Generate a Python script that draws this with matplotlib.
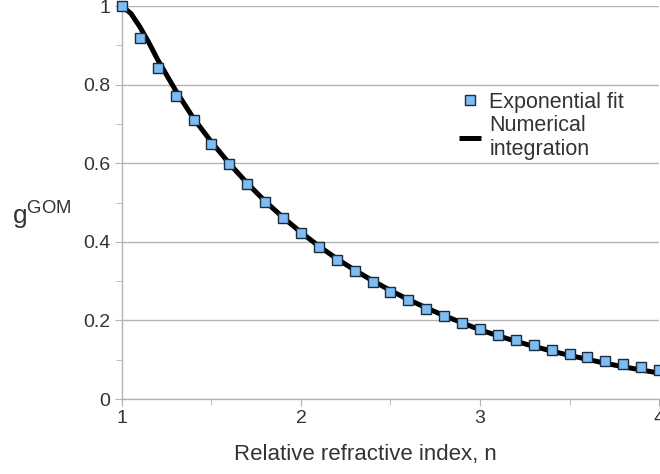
import numpy as np
import matplotlib
matplotlib.use("Agg")
import matplotlib.pyplot as plt
from matplotlib.ticker import MultipleLocator

# --- data ---
n_fit = [1.0, 1.1, 1.2, 1.3, 1.4, 1.5, 1.6, 1.7, 1.8, 1.9,
         2.0, 2.1, 2.2, 2.3, 2.4, 2.5, 2.6, 2.7, 2.8, 2.9,
         3.0, 3.1, 3.2, 3.3, 3.4, 3.5, 3.6, 3.7, 3.8, 3.9, 4.0]
g_fit = [1.000, 0.919, 0.842, 0.772, 0.709, 0.649, 0.597, 0.547, 0.501, 0.461,
         0.422, 0.387, 0.354, 0.326, 0.298, 0.273, 0.251, 0.230, 0.210, 0.194,
         0.177, 0.163, 0.149, 0.137, 0.125, 0.115, 0.106, 0.097, 0.088, 0.081, 0.075]

n_num = [1.0, 1.05, 1.1, 1.15, 1.2, 1.25, 1.3, 1.4, 1.5, 1.6, 1.7, 1.8, 1.9,
         2.0, 2.1, 2.2, 2.3, 2.4, 2.5, 2.6, 2.7, 2.8, 2.9,
         3.0, 3.1, 3.2, 3.3, 3.4, 3.5, 3.6, 3.7, 3.8, 3.9, 4.0]
g_num = [1.000, 0.981, 0.947, 0.907, 0.863, 0.824, 0.785, 0.714, 0.654, 0.599,
         0.549, 0.503, 0.462, 0.424, 0.389, 0.357, 0.328, 0.301, 0.276, 0.253,
         0.232, 0.212, 0.194, 0.176, 0.161, 0.147, 0.134, 0.122, 0.111, 0.101,
         0.091, 0.082, 0.074, 0.066]

x_ticks = [1, 2, 3, 4]
x_labels = ['1', '2', '3', '4']
y_ticks = [0, 0.2, 0.4, 0.6, 0.8, 1.0]
y_labels = ['0', '0.2', '0.4', '0.6', '0.8', '1']

plt.rcParams['font.family'] = ['Liberation Sans', 'DejaVu Sans']

fig = plt.figure(figsize=(6.6, 4.74), dpi=100)
ax = fig.add_axes([0.1848, 0.1582, 0.8137, 0.8291])

grid_col = '#b3b3b3'
ax.plot(n_num, g_num, color='black', lw=3.6, solid_capstyle='butt',
        label='Numerical\nintegration', zorder=3)
ax.plot(n_fit, g_fit, ls='none', marker='s', ms=7.5, mfc='#7dbdf5',
        mec='#1d2b3a', mew=1.0, label='Exponential fit', zorder=4, clip_on=False)

ax.set_xlim(1, 4)
ax.set_ylim(0, 1)
ax.set_xticks(x_ticks)
ax.set_xticklabels(x_labels)
ax.set_yticks(y_ticks)
ax.set_yticklabels(y_labels)
ax.xaxis.set_minor_locator(MultipleLocator(0.5))
ax.yaxis.set_minor_locator(MultipleLocator(0.1))
ax.grid(True, which='major', axis='y', color=grid_col, lw=1.0)
ax.set_axisbelow(True)

for s in ['top', 'right']:
    ax.spines[s].set_visible(False)
for s in ['left', 'bottom']:
    ax.spines[s].set_color(grid_col)
    ax.spines[s].set_linewidth(1.0)

ax.tick_params(which='both', color=grid_col, direction='out', labelsize=14,
               labelcolor='#333333')
ax.tick_params(which='major', length=5)
ax.tick_params(which='minor', length=4)
ax.tick_params(axis='x', pad=3)

# axis title sits a bit left of the plot centre, as in the original
ax.set_xlabel('Relative refractive index, n', fontsize=16, color='#333333')
ax.xaxis.set_label_coords(0.454, -0.115)
fig.text(0.018, 0.548, r'g$^{\mathregular{GOM}}$', fontsize=19, color='#333333',
         va='center', ha='left')

handles, labels = ax.get_legend_handles_labels()
ax.legend(handles[::-1], labels[::-1], loc='upper left', bbox_to_anchor=(0.60, 0.82),
          frameon=False, fontsize=15.5, labelcolor='#333333', handlelength=1.0,
          handletextpad=0.4, borderpad=0.2, labelspacing=0.1)

fig.savefig('out.png', dpi=100)
